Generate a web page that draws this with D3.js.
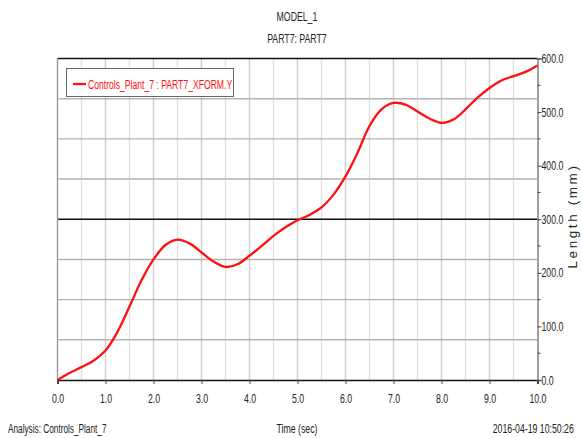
<!DOCTYPE html>
<html>
<head>
<meta charset="utf-8">
<script src="https://cdn.jsdelivr.net/npm/d3@7"></script>
<style>
  html, body { margin: 0; padding: 0; background: #fff; overflow: hidden; }
  svg { display: block; }
  .narrow { font-family: "Liberation Sans Narrow", "Arial Narrow", "Liberation Sans", sans-serif; }
</style>
</head>
<body>
<svg id="chart" width="582" height="438"></svg>
<script>
// Time samples (sec) and the tracked displacement of PART7 (mm)
const timeSec = [0, 0.25, 0.5, 0.75, 1.0, 1.25, 1.5, 1.75, 2.0, 2.25, 2.5, 2.75, 3.0, 3.25, 3.5, 3.75,
  4.0, 4.25, 4.5, 4.75, 5.0, 5.25, 5.5, 5.75, 6.0, 6.25, 6.5, 6.75, 7.0, 7.25, 7.5, 7.75,
  8.0, 8.25, 8.5, 8.75, 9.0, 9.25, 9.5, 9.75, 10.0];
const lengthMm = [0, 13, 24, 36, 55, 90, 137, 186, 225, 252, 262, 255, 238, 221, 211, 216,
  232, 250, 269, 285, 298, 308, 322, 346, 380, 424, 474, 505, 517, 514, 501, 488,
  480, 486, 505, 527, 545, 559, 567, 575, 587];

const xTicks = [0, 1, 2, 3, 4, 5, 6, 7, 8, 9, 10];
const yLabelTicks = [0, 100, 200, 300, 400, 500, 600];
const yMinorTicks = [50, 150, 250, 350, 450, 550];
const yGrid = [75, 150, 225, 375, 450, 525];
const xGrid = d3.range(0.5, 10, 0.5);

const titleMain = "MODEL_1";
const titleSub = "PART7: PART7";
const seriesName = "Controls_Plant_7 : PART7_XFORM.Y";
const xTitle = "Time (sec)";
const yTitle = "Length (mm)";
const footLeft = "Analysis:  Controls_Plant_7";
const footRight = "2016-04-19 10:50:26";

const svg = d3.select("#chart");
const plotL = 57.5, plotR = 537.5, plotT = 58.5, plotB = 380;
const SQUEEZE = 0.7;   // horizontal squeeze giving a narrow face

const x = d3.scaleLinear().domain([0, 10]).range([plotL, plotR]);
const y = d3.scaleLinear().domain([0, 600]).range([plotB, plotT]);

// squeeze text horizontally, keeping its anchor point in place
function condense(sel, s) {
  sel.each(function () {
    const t = d3.select(this);
    const w = this.getComputedTextLength();
    const anchor = t.attr("text-anchor") || getComputedStyle(this).textAnchor || "start";
    const tx = +t.attr("x") || 0, ty = +t.attr("y") || 0;
    const shift = anchor === "end" ? -w * s : anchor === "middle" ? -w * s / 2 : 0;
    const prev = t.attr("transform") || "";
    t.attr("x", 0).attr("y", 0).attr("text-anchor", "start")
      .attr("transform", `${prev} translate(${tx + shift},${ty}) scale(${s},1)`);
  });
}

// grid
const grid = svg.append("g");
grid.selectAll("line.vx").data(xGrid).join("line")
  .attr("x1", d => x(d)).attr("x2", d => x(d))
  .attr("y1", plotT).attr("y2", plotB)
  .attr("stroke", d => Number.isInteger(d) ? "#cfcfcf" : "#e2e2e2")
  .attr("stroke-width", 1.4);
grid.selectAll("line.hy").data(yGrid).join("line")
  .attr("x1", plotL).attr("x2", plotR)
  .attr("y1", d => y(d)).attr("y2", d => y(d))
  .attr("stroke", "#b4b4b4").attr("stroke-width", 1.4);

// frame lines
svg.append("line").attr("x1", plotL).attr("x2", plotR).attr("y1", y(300)).attr("y2", y(300))
  .attr("stroke", "#111").attr("stroke-width", 1.4);
svg.append("line").attr("x1", plotL).attr("x2", plotR).attr("y1", plotT).attr("y2", plotT)
  .attr("stroke", "#111").attr("stroke-width", 1.6);
svg.append("line").attr("x1", plotL).attr("x2", plotL).attr("y1", plotT).attr("y2", plotB)
  .attr("stroke", "#9a9a9a").attr("stroke-width", 1.4);

// bottom axis
const xAxis = d3.axisBottom(x).tickValues(xTicks).tickFormat(d3.format(".1f"))
  .tickSize(4).tickPadding(10);
const gx = svg.append("g").attr("transform", `translate(0,${plotB})`).call(xAxis);
gx.select(".domain").attr("stroke", "#111").attr("stroke-width", 1.6);
gx.selectAll(".tick line").attr("stroke", "#444");
gx.selectAll("text").attr("class", "narrow").attr("font-size", 12.5).attr("fill", "#222");
condense(gx.selectAll("text"), SQUEEZE);

// right axis
const yAxis = d3.axisRight(y).tickValues(yLabelTicks).tickFormat(d3.format(".1f"))
  .tickSize(4).tickPadding(0);
const gy = svg.append("g").attr("transform", `translate(${plotR},0)`).call(yAxis);
gy.select(".domain").attr("stroke", "#777").attr("stroke-width", 1.4);
gy.selectAll(".tick line").attr("stroke", "#444");
gy.selectAll("text").attr("class", "narrow").attr("font-size", 12.5).attr("fill", "#222");
condense(gy.selectAll("text"), SQUEEZE);
gy.selectAll("line.minor").data(yMinorTicks).join("line")
  .attr("x1", 0).attr("x2", 3).attr("y1", d => y(d)).attr("y2", d => y(d))
  .attr("stroke", "#444");

// data curve
const line = d3.line().x((d, i) => x(timeSec[i])).y(d => y(d)).curve(d3.curveCatmullRom);
svg.append("path").datum(lengthMm).attr("d", line)
  .attr("fill", "none").attr("stroke", "#ff1010").attr("stroke-width", 2.3);

// legend
const lg = svg.append("g");
lg.append("rect").attr("x", 66.5).attr("y", 68.5).attr("width", 167).attr("height", 28)
  .attr("fill", "#fff").attr("stroke", "#666").attr("stroke-width", 1);
lg.append("line").attr("x1", 73).attr("x2", 86).attr("y1", 84).attr("y2", 84)
  .attr("stroke", "#ff1010").attr("stroke-width", 2.3);
const legendText = lg.append("text").attr("class", "narrow").attr("x", 88).attr("y", 88.5)
  .attr("font-size", 12.5).attr("fill", "#ff1010").text(seriesName);
condense(legendText, 0.69);

// titles and footer
const labels = svg.append("g").attr("class", "labels").attr("fill", "#222");
function label(tx, ty, str, anchor, s) {
  const t = labels.append("text").attr("class", "narrow").attr("x", tx).attr("y", ty)
    .attr("text-anchor", anchor).attr("font-size", 12.5).text(str);
  condense(t, s);
  return t;
}
label(297, 21, titleMain, "middle", SQUEEZE);
label(297, 43, titleSub, "middle", SQUEEZE);
label(297, 433, xTitle, "middle", SQUEEZE);
label(8, 433, footLeft, "start", 0.66);
label(574, 433, footRight, "end", SQUEEZE);

svg.append("text").attr("transform", "translate(577,216) rotate(-90)")
  .attr("text-anchor", "middle").attr("font-family", "Liberation Sans, sans-serif")
  .attr("font-size", 13.5).attr("letter-spacing", 2.6).attr("fill", "#222").text(yTitle);
</script>
</body>
</html>
